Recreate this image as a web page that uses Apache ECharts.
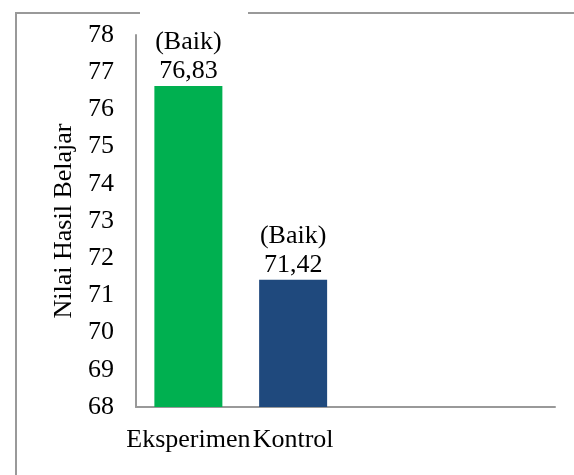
<!DOCTYPE html>
<html>
<head>
<meta charset="utf-8">
<script src="https://cdn.jsdelivr.net/npm/echarts@6/dist/echarts.min.js"></script>
<style>
  html, body { margin: 0; padding: 0; background: #fff; }
  #chart { width: 574px; height: 475px; }
</style>
</head>
<body>
<div id="chart"></div>
<script>
// data
var categories = ['Eksperimen', 'Kontrol', '', '']
var barValues = [76.63, 71.42]
var valueLabels = ['76,83', '71,42']
var ratingLabels = ['(Baik)', '(Baik)']
var barColors = ['#00B050', '#1F497D']
var yTicks = { min: 68, max: 78, step: 1 }

var serif = "'Liberation Serif', 'Times New Roman', serif"

var chart = echarts.init(document.getElementById('chart'))

var seriesData = barValues.map(function (v, i) {
  return {
    value: v,
    itemStyle: { color: barColors[i] },
    label: { formatter: ratingLabels[i] + '\n' + valueLabels[i] }
  }
})

chart.setOption({
  animation: false,
  graphic: [{
    type: 'rect',
    z: -10,
    shape: { x: 16, y: 13, width: 620, height: 520 },
    style: { fill: 'none', stroke: '#999', lineWidth: 2 }
  }, {
    type: 'rect',
    z: -9,
    shape: { x: 140, y: 10, width: 108, height: 7 },
    style: { fill: '#fff' }
  }],
  grid: {
    left: 136,
    right: 19,
    top: 35,
    bottom: 68
  },
  xAxis: {
    type: 'category',
    data: categories,
    axisLine: { lineStyle: { color: '#999', width: 2 } },
    axisTick: { show: false },
    axisLabel: {
      interval: 0,
      margin: 20,
      color: '#000',
      fontFamily: serif,
      fontSize: 26
    }
  },
  yAxis: {
    type: 'value',
    min: yTicks.min,
    max: yTicks.max,
    interval: yTicks.step,
    name: 'Nilai Hasil Belajar',
    nameLocation: 'middle',
    nameRotate: 90,
    nameGap: 58,
    nameTextStyle: {
      color: '#000',
      fontFamily: serif,
      fontSize: 26
    },
    axisLine: { show: true, lineStyle: { color: '#999', width: 2 } },
    axisTick: { show: false },
    splitLine: { show: false },
    axisLabel: {
      margin: 22,
      color: '#000',
      fontFamily: serif,
      fontSize: 26
    }
  },
  series: [{
    type: 'bar',
    data: seriesData,
    barWidth: 68,
    label: {
      show: true,
      position: 'top',
      distance: 0,
      color: '#000',
      fontFamily: serif,
      fontSize: 26,
      lineHeight: 29
    }
  }]
})
</script>
</body>
</html>
